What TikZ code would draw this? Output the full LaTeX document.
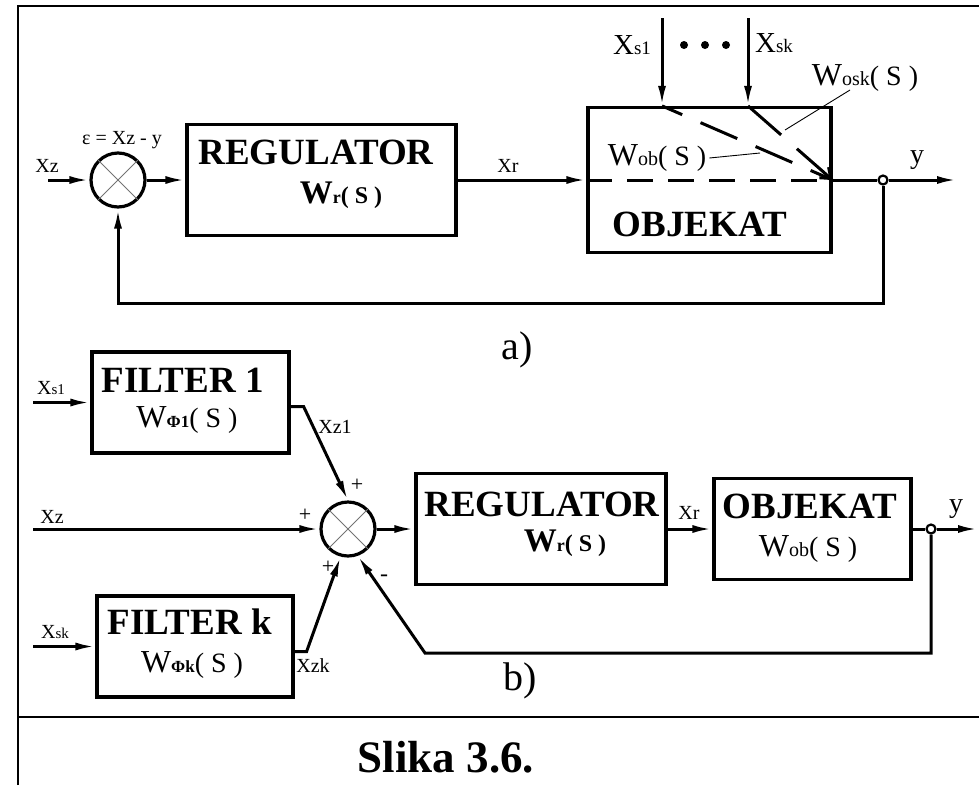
\documentclass[tikz,border=0pt]{standalone}
\usepackage{fontspec}
\setmainfont{Liberation Serif}
\usepackage{tikz}
\usetikzlibrary{arrows.meta, positioning, calc}
\newcommand\fsz[2]{{\fontsize{#1}{#1}\selectfont #2}}

\begin{document}
\begin{tikzpicture}[x=1pt, y=-1pt,
    blockbox/.style={draw, line width=3.2pt, inner sep=0pt},
    sumnode/.style={circle, draw, line width=3.2pt, minimum size=54pt, inner sep=0pt},
    crossline/.style={line width=0.8pt, draw=black!55},
    joint/.style={circle, draw, line width=2.2pt, fill=white, minimum size=9pt, inner sep=0pt},
    dotmark/.style={circle, fill, minimum size=8pt, inner sep=0pt},
    sig/.style={line width=3pt, -{Latex[length=20pt, width=8pt]}},
    wire/.style={line width=3pt},
    dashline/.style={line width=3pt, dash pattern=on 26pt off 15pt},
    leader/.style={line width=0.9pt},
    txt/.style={inner sep=0pt},
    boldtxt/.style={inner sep=0pt, font=\bfseries\fontsize{37}{40}\selectfont},
    smalltxt/.style={inner sep=0pt, font=\fontsize{20}{22}\selectfont}
  ]
    \useasboundingbox (0,0) rectangle (979,785);
    \draw[line width=2.6pt] (18,785) -- (18,6) -- (979,6);
    \draw[line width=2.6pt] (18,717) -- (979,717);

    % a)
    \node[sumnode] (suma) at (118,180) {};
    \draw[crossline] (suma.north west) -- (suma.south east) (suma.north east) -- (suma.south west);
    \node[blockbox, minimum width=269pt, minimum height=111pt] (rega) at (321.5,180) {};
    \node[blockbox, minimum width=243pt, minimum height=145pt] (obja) at (709.5,180) {};
    \node[joint] (jca) at (883,180) {};
    \coordinate (xza) at (48,180);
    \coordinate (outa) at (957,180);
    \coordinate (xs1a) at (662,18);
    \coordinate (xska) at (748,18);
    \coordinate (fba) at (883,303);
    \coordinate (wobtip) at (760,153);
    \coordinate (osktail) at (850,90);
    \coordinate (osktip) at (785,130);

    \draw[sig] (xza) -- (suma);
    \draw[sig] (suma) -- (rega);
    \draw[sig] (rega) -- (obja);
    \draw[dashline] (obja.west) -- (obja.east);
    \draw[wire] (obja.east) -- (jca);
    \draw[sig] (jca) -- (outa);
    \draw[sig] (jca) -- (fba) -| (suma);
    \draw[sig] (xs1a) -- (xs1a |- obja.north);
    \draw[sig] (xska) -- (xska |- obja.north);
    \draw[dashline, dash pattern=on 40pt off 20pt, dash phase=18pt] (xs1a |- obja.north) -- (obja.east);
    \draw[wire, dash pattern=on 44pt off 21pt, -{Straight Barb[length=9pt, width=14pt]}] (xska |- obja.north) -- (obja.east);

    \node[smalltxt] (lxza) at (47,166) {Xz};
    \node[txt, font=\fontsize{20}{22}\selectfont] (leps) at (122,140) {ε = Xz - y};
    \node[boldtxt] (lrega) at (316,152) {REGULATOR};
    \node[txt, font=\bfseries] (lwra) at (341,195) {\fsz{33}{W}\fsz{18}{r}\fsz{24}{( S )}};
    \node[smalltxt] (lxra) at (508,166) {Xr};
    \node[txt] (lxs1a) at (632,45) {\fsz{29}{X}\fsz{19}{s1}};
    \node[dotmark] (dot1) at (684,45) {};
    \node[dotmark] (dot2) at (705,45) {};
    \node[dotmark] (dot3) at (726,45) {};
    \node[txt] (lxska) at (774,43) {\fsz{29}{X}\fsz{19}{sk}};
    \node[txt] (lwosk) at (865,78) {\fsz{32}{W}\fsz{20}{osk}\fsz{28}{( S )}};
    \node[txt] (lwob) at (657,158) {\fsz{32}{W}\fsz{20}{ob}\fsz{28}{( S )}};
    \draw[leader] ([xshift=3pt]lwob.east) -- (wobtip);
    \draw[leader] (osktail) -- (osktip);
    \node[boldtxt] (lobja) at (700,224) {OBJEKAT};
    \node[txt, font=\fontsize{28}{28}\selectfont] (lya) at (917,160) {y};
    \node[txt, font=\fontsize{40}{40}\selectfont] (lpa) at (517,350) {a)};

    % b)
    \node[blockbox, minimum width=197pt, minimum height=101pt] (filt1) at (190.5,402.5) {};
    \node[blockbox, minimum width=196pt, minimum height=101pt] (filtk) at (195,646.5) {};
    \node[sumnode] (sumb) at (348,529) {};
    \draw[crossline] (sumb.north west) -- (sumb.south east) (sumb.north east) -- (sumb.south west);
    \node[blockbox, minimum width=250pt, minimum height=111pt] (regb) at (541,529) {};
    \node[blockbox, minimum width=197pt, minimum height=101pt] (objb) at (812.5,529) {};
    \node[joint] (jcb) at (931,529) {};
    \coordinate (xs1b) at (33,402.5);
    \coordinate (xzb) at (33,529);
    \coordinate (xskb) at (33,646.5);
    \coordinate (outb) at (978,529);
    \coordinate (fbb1) at (931,653);
    \coordinate (fbb2) at (425,653);

    \draw[sig] (xs1b) -- (filt1);
    \draw[sig] (xzb) -- (sumb);
    \draw[sig] (xskb) -- (filtk);
    \draw[sig] ([yshift=-4pt]filt1.east) -- ++(13,0) -- (sumb.north);
    \draw[sig] ([yshift=-5pt]filtk.east) -- ++(12,0) -- (sumb.255);
    \draw[sig] (sumb) -- (regb);
    \draw[sig] (regb) -- (objb);
    \draw[wire] (objb) -- (jcb);
    \draw[sig] (jcb) -- (outb);
    \draw[sig] (jcb) -- (fbb1) -- (fbb2) -- (sumb.290);

    \node[txt] (lxs1b) at (51,388) {\fsz{20}{X}\fsz{15}{s1}};
    \node[smalltxt] (lxzb) at (52,517) {Xz};
    \node[txt] (lxskb) at (55,632) {\fsz{20}{X}\fsz{15}{sk}};
    \node[boldtxt] (lfilt1) at (182.5,380) {FILTER 1};
    \node[txt] (lwf1) at (187,420) {\fsz{32}{W}\fsz{17}{\bfseries Φ1}\fsz{28}{( S )}};
    \node[boldtxt] (lfiltk) at (189.5,622) {FILTER k};
    \node[txt] (lwfk) at (192,665) {\fsz{32}{W}\fsz{17}{\bfseries Φk}\fsz{28}{( S )}};
    \node[smalltxt] (lxz1) at (335,427) {Xz1};
    \node[smalltxt] (lxzk) at (313,666) {Xzk};
    \node[txt, font=\fontsize{22}{22}\selectfont] (lp1) at (357,485) {+};
    \node[txt, font=\fontsize{22}{22}\selectfont] (lp2) at (305,515) {+};
    \node[txt, font=\fontsize{22}{22}\selectfont] (lp3) at (328,567) {+};
    \node[txt, font=\fontsize{24}{24}\selectfont] (lm1) at (384,578) {-};
    \node[boldtxt] (lregb) at (542,504) {REGULATOR};
    \node[txt, font=\bfseries] (lwrb) at (565,543) {\fsz{33}{W}\fsz{18}{r}\fsz{24}{( S )}};
    \node[smalltxt] (lxrb) at (689,513) {Xr};
    \node[boldtxt] (lobjb) at (810,506) {OBJEKAT};
    \node[txt] (lwobb) at (808,549) {\fsz{32}{W}\fsz{20}{ob}\fsz{28}{( S )}};
    \node[txt, font=\fontsize{28}{28}\selectfont] (lyb) at (956,509) {y};
    \node[txt, font=\fontsize{40}{40}\selectfont] (lpb) at (520,681) {b)};

    \node[txt, font=\bfseries\fontsize{45}{45}\selectfont] (caption) at (446,757) {Slika 3.6.};
  \end{tikzpicture}
\end{document}
